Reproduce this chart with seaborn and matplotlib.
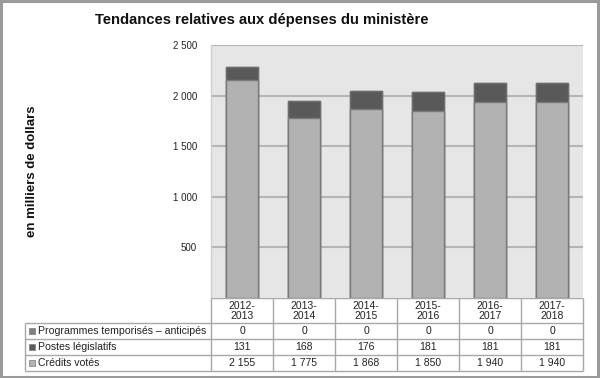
import matplotlib
matplotlib.use("Agg")
import matplotlib.pyplot as plt
from matplotlib.patches import Rectangle
import seaborn as sns
import pandas as pd

# =========================================================
# DATA
# =========================================================

years = ["2012-\n2013", "2013-\n2014", "2014-\n2015", "2015-\n2016", "2016-\n2017", "2017-\n2018"]

programmes = [0, 0, 0, 0, 0, 0]
postes = [131, 168, 176, 181, 181, 181]
credits = [2155, 1775, 1868, 1850, 1940, 1940]

row_labels = ["Programmes temporisés – anticipés", "Postes législatifs", "Crédits votés"]
row_colors = ["#7f7f7f", "#595959", "#b2b2b2"]

yticks = [500, 1000, 1500, 2000, 2500]


def fr(n):
    return f"{n:,}".replace(",", " ")


df = pd.DataFrame({
    "year": years,
    "credits": credits,
    "postes": postes,
    "programmes": programmes,
})
df["total"] = df["credits"] + df["postes"] + df["programmes"]
df["cred_post"] = df["credits"] + df["postes"]

# =========================================================
# STYLE
# =========================================================

sns.set_style("white")
plt.rcParams["font.family"] = ["Liberation Sans", "DejaVu Sans"]

W, H = 600, 378
fig = plt.figure(figsize=(6, 3.78), dpi=100)


def fx(px):
    return px / W


def fy(py):
    return 1 - py / H


# =========================================================
# BAR CHART
# =========================================================

ax = fig.add_axes([fx(211), fy(298), fx(583) - fx(211), fy(45) - fy(298)])
ax.set_facecolor("#e6e6e6")

sns.barplot(data=df, x="year", y="total", color=row_colors[0], saturation=1,
            width=0.52, edgecolor="#6e6e6e", linewidth=1, ax=ax, zorder=3)
sns.barplot(data=df, x="year", y="cred_post", color=row_colors[1], saturation=1,
            width=0.52, edgecolor="#6e6e6e", linewidth=1, ax=ax, zorder=3)
sns.barplot(data=df, x="year", y="credits", color=row_colors[2], saturation=1,
            width=0.52, edgecolor="#7a7a7a", linewidth=1, ax=ax, zorder=3)

ax.set_xlim(-0.5, len(years) - 0.5)
ax.set_ylim(0, 2500)
ax.set_yticks(yticks)
ax.set_yticklabels([fr(v) for v in yticks], fontsize=7, color="#222222")
ax.tick_params(axis="y", length=0, pad=10)
ax.set_xticks([])
ax.set_xlabel("")
ax.set_ylabel("")
for y in yticks:
    ax.axhline(y, color="#b5b5b5", linewidth=1.5, zorder=1)
for s in ["top", "right", "bottom"]:
    ax.spines[s].set_visible(False)
ax.spines["left"].set_color("#d0d0d0")
ax.spines["left"].set_linewidth(1)

# =========================================================
# DATA TABLE
# =========================================================

tx = fig.add_axes([fx(20), fy(378), fx(590) - fx(20), fy(298) - fy(378)])
tx.set_xlim(20, 590)
tx.set_ylim(378, 298)
tx.axis("off")

left, c0, right = 25, 211, 583
col_w = (right - c0) / len(years)
row_y = [298, 323, 339, 355, 371]
line_c = "#a8a8a8"

tx.hlines(row_y[1:], left, right, color=line_c, linewidth=1)
tx.hlines(row_y[0], c0, right, color=line_c, linewidth=1)
tx.vlines(left, row_y[1], row_y[-1], color=line_c, linewidth=1)
for i in range(len(years) + 1):
    tx.vlines(c0 + i * col_w, row_y[0], row_y[-1], color=line_c, linewidth=1)

for i, yr in enumerate(years):
    tx.text(c0 + (i + 0.5) * col_w, (row_y[0] + row_y[1]) / 2 + 0.5, yr,
            ha="center", va="center", fontsize=7.5, color="#222222", linespacing=1.0)

series = [programmes, postes, credits]
for r, (lab, col, vals) in enumerate(zip(row_labels, row_colors, series)):
    ym = (row_y[r + 1] + row_y[r + 2]) / 2
    tx.add_patch(Rectangle((29, ym - 3), 6, 6, facecolor=col, edgecolor="#888888", linewidth=0.6))
    tx.text(38, ym, lab, ha="left", va="center", fontsize=7.6, color="#222222")
    for i, v in enumerate(vals):
        tx.text(c0 + (i + 0.5) * col_w, ym, fr(v), ha="center", va="center",
                fontsize=7.5, color="#222222")

# =========================================================
# TITLES AND FRAME
# =========================================================

fig.text(fx(262), fy(20), "Tendances relatives aux dépenses du ministère",
         ha="center", va="center", fontsize=10.6, fontweight="bold", color="#111111")
fig.text(fx(32), fy(171), "en milliers de dollars", rotation=90,
         ha="center", va="center", fontsize=9.5, fontweight="bold", color="#111111")

fig.patches.append(Rectangle((0.002, 0.003), 0.994, 0.994, transform=fig.transFigure,
                             fill=False, edgecolor="#9a9a9a", linewidth=2.2))

plt.savefig("out.png", dpi=100)
